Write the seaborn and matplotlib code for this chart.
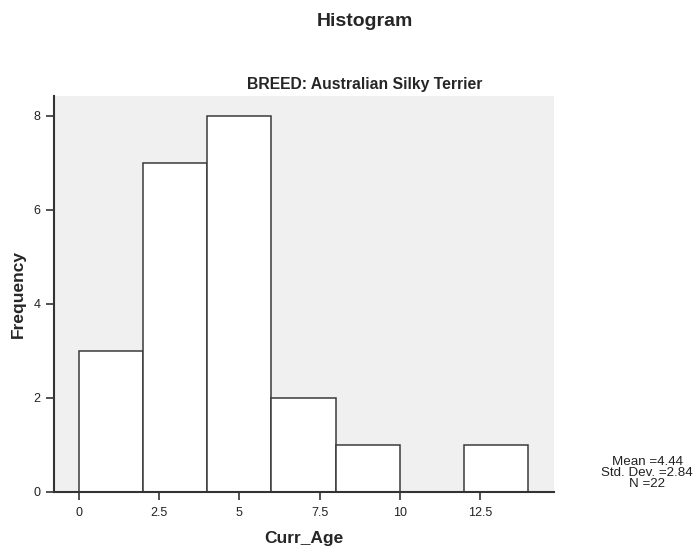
import matplotlib
matplotlib.use("Agg")
import matplotlib.pyplot as plt
import seaborn as sns
import numpy as np
import pandas as pd

bin_edges = [0, 2, 4, 6, 8, 10, 12, 14]
counts = [3, 7, 8, 2, 1, 0, 1]
x_ticks = [0, 2.5, 5, 7.5, 10, 12.5]
x_tick_labels = ["0", "2.5", "5", "7.5", "10", "12.5"]
y_ticks = [0, 2, 4, 6, 8]
stats_text = "Mean =4.44\nStd. Dev. =2.84\nN =22"

sns.set_style("white")
plt.rcParams['font.family'] = ['Liberation Sans', 'DejaVu Sans']

mids = [(a + b) / 2 for a, b in zip(bin_edges[:-1], bin_edges[1:])]
df = pd.DataFrame({"Curr_Age": mids, "w": counts})

W, H = 698, 547
fig = plt.figure(figsize=(W / 100, H / 100), dpi=100)
ax = fig.add_axes([54 / W, 1 - 492 / H, (554 - 54) / W, (492 - 96) / H])
ax.set_facecolor("#F0F0F0")

sns.histplot(data=df, x="Curr_Age", weights="w", bins=bin_edges, ax=ax,
             color="white", edgecolor="#3a3a3a", linewidth=1.1, alpha=1.0)

ax.set_xlim(-0.78, 14.81)
ax.set_ylim(0, 8.42)
ax.set_xticks(x_ticks)
ax.set_xticklabels(x_tick_labels)
ax.set_yticks(y_ticks)
ax.tick_params(axis='both', direction='out', length=5.5, width=1.2, color='#333333',
               labelsize=9, labelcolor='#222222', bottom=True, left=True)
ax.tick_params(axis='x', pad=5)
ax.tick_params(axis='y', pad=4)
for s in ["top", "right"]:
    ax.spines[s].set_visible(False)
for s in ["left", "bottom"]:
    ax.spines[s].set_color("#333333")
    ax.spines[s].set_linewidth(1.5)

ax.set_xlabel("Curr_Age", fontsize=12.5, fontweight="bold", labelpad=9)
ax.set_ylabel("Frequency", fontsize=12.5, fontweight="bold", labelpad=6)

fig.text(365 / W, 1 - 22 / H, "Histogram", ha="center", va="center",
         fontsize=14, fontweight="bold")
fig.text(365 / W, 1 - 85 / H, "BREED: Australian Silky Terrier", ha="center",
         va="center", fontsize=11.3, fontweight="bold")
fig.text(647 / W, 1 - 473 / H, stats_text, ha="center", va="center",
         fontsize=9.6, linespacing=0.92, color="#222222")

fig.savefig("out.png", dpi=100)
